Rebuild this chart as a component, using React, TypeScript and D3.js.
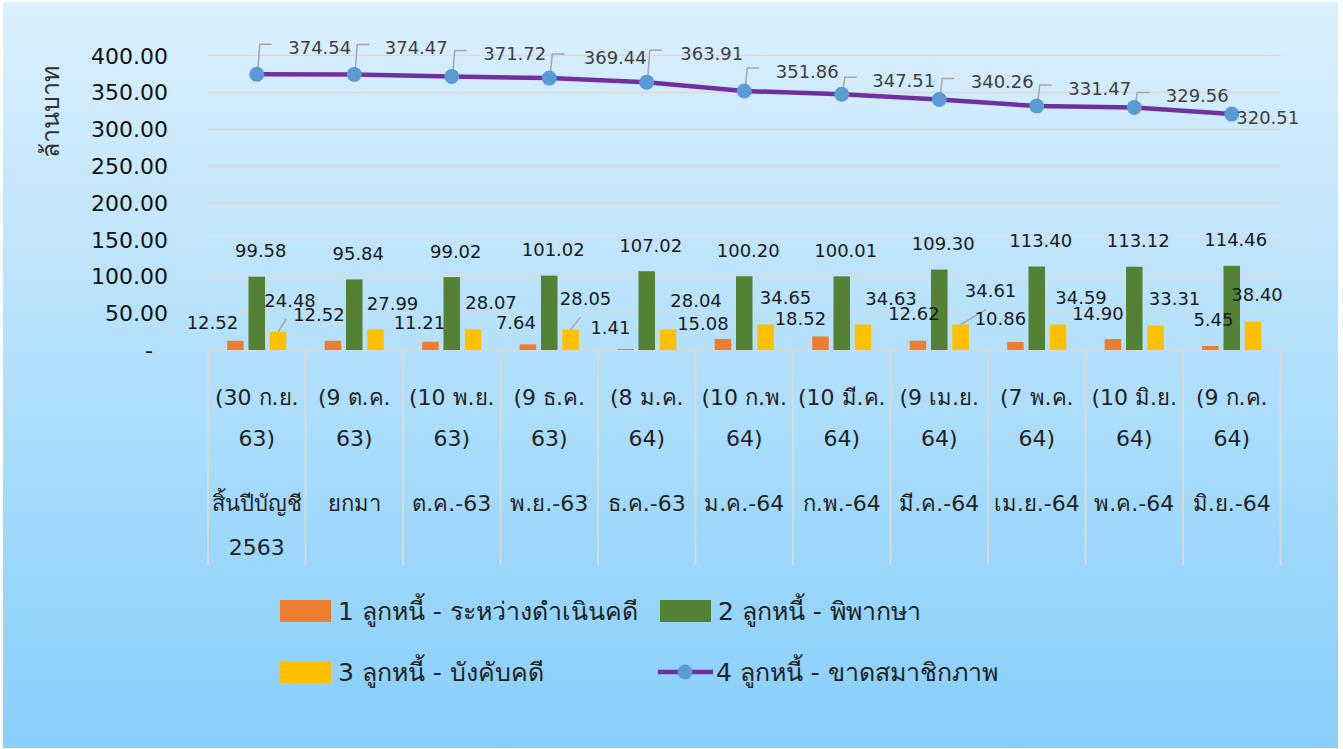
import { useEffect, useRef } from "react";
import * as d3 from "d3";

const W = 1343, H = 749;

// category labels (inner: cut-off dates, outer: reporting month)
const dateLabels = ["(30 ก.ย. 63)", "(9 ต.ค. 63)", "(10 พ.ย. 63)", "(9 ธ.ค. 63)", "(8 ม.ค. 64)", "(10 ก.พ. 64)", "(10 มี.ค. 64)", "(9 เม.ย. 64)", "(7 พ.ค. 64)", "(10 มิ.ย. 64)", "(9 ก.ค. 64)"];
const periodLabels = ["สิ้นปีบัญชี 2563", "ยกมา", "ต.ค.-63", "พ.ย.-63", "ธ.ค.-63", "ม.ค.-64", "ก.พ.-64", "มี.ค.-64", "เม.ย.-64", "พ.ค.-64", "มิ.ย.-64"];

// series values (ล้านบาท)
const inProcess = [12.52, 12.52, 11.21, 7.64, 1.41, 15.08, 18.52, 12.62, 10.86, 14.90, 5.45];
const judged    = [99.58, 95.84, 99.02, 101.02, 107.02, 100.20, 100.01, 109.30, 113.40, 113.12, 114.46];
const enforced  = [24.48, 27.99, 28.07, 28.05, 28.04, 34.65, 34.63, 34.61, 34.59, 33.31, 38.40];
const lapsed    = [374.54, 374.47, 371.72, 369.44, 363.91, 351.86, 347.51, 340.26, 331.47, 329.56, 320.51];

const yTicks = [0, 50, 100, 150, 200, 250, 300, 350, 400];
const seriesNames = ["1 ลูกหนี้ - ระหว่างดำเนินคดี", "2 ลูกหนี้ - พิพากษา", "3 ลูกหนี้ - บังคับคดี", "4 ลูกหนี้ - ขาดสมาชิกภาพ"];
const yTitle = "ล้านบาท";

const C_ORANGE = "#ed7d31", C_GREEN = "#548235", C_YELLOW = "#ffc000";
const C_LINE = "#7030a0", C_MARK = "#5b9bd5", C_GRID = "#d9d9d9", C_LEAD = "#a6a6a6";
const FONT = "Tahoma, 'DejaVu Sans', 'Noto Sans', sans-serif";

// manually placed data labels (offset from the point they belong to) — as in the source workbook
const ORANGE_LBL = [[-23, -18], [-14, -26], [-11, -19], [-12, -22], [-15, -21], [-20, -15], [-20, -18], [-4, -27], [-15, -23], [-15, -26], [3, -26]];
const YELLOW_LBL = [[12, -31], [17, -26], [18, -27], [15, -31], [28, -29], [20, -27], [28, -26], [30, -34], [23, -27], [19, -27], [4, -27]];
const LINE_LBL = [[63, -27], [62, -27], [63, -23], [66, -21], [65, -29], [63, -20], [62, -14], [63, -18], [63, -18], [63, -12], [36, 3]];
const BAR_LEADERS = [[0, 8, -13], [3, 10, -12], [7, 25, -15]];

export default function App() {
  const ref = useRef<SVGSVGElement>(null);

  useEffect(() => {
    if (!ref.current) return;
    const svg = d3.select(ref.current);
    svg.selectAll("*").remove();

    const defs = svg.append("defs");
    const grad = defs.append("linearGradient").attr("id", "bg").attr("x1", 0).attr("y1", 0).attr("x2", 0).attr("y2", 1);
    grad.append("stop").attr("offset", "0%").attr("stop-color", "#dbf0fd");
    grad.append("stop").attr("offset", "100%").attr("stop-color", "#87cffb");
    svg.append("rect").attr("width", W).attr("height", H).attr("fill", "#fff");
    svg.append("rect").attr("x", 3).attr("y", 2).attr("width", 1335).attr("height", 746).attr("fill", "url(#bg)");

    const left = 208, right = 1280.5;
    const y = d3.scaleLinear().domain([0, 400]).range([350, 55.6]);
    const idx = dateLabels.map((_, i) => i);
    const x0 = d3.scaleBand<number>().domain(idx).range([left, right]).padding(0);
    const x1 = d3.scaleBand<number>().domain([0, 1, 2]).range([0, x0.bandwidth()]).paddingInner(0.225).paddingOuter(0.9);
    const cx = (i: number) => x0(i)! + x0.bandwidth() / 2;
    const bx = (i: number, s: number) => x0(i)! + x1(s)! + x1.bandwidth() / 2;

    // gridlines
    svg.append("g").selectAll("line").data(yTicks).join("line")
      .attr("x1", left).attr("x2", right).attr("y1", d => y(d)).attr("y2", d => y(d))
      .attr("stroke", C_GRID).attr("stroke-width", 1.5);

    // category separators
    svg.append("g").selectAll("line").data(d3.range(idx.length + 1)).join("line")
      .attr("x1", d => left + d * x0.step()).attr("x2", d => left + d * x0.step())
      .attr("y1", 350).attr("y2", 565).attr("stroke", C_GRID).attr("stroke-width", 2);

    // y tick labels
    svg.append("g").selectAll("text").data(yTicks).join("text")
      .attr("x", d => d === 0 ? 153 : 168).attr("y", d => y(d)).attr("dy", "0.36em")
      .attr("text-anchor", "end").attr("font-family", FONT).attr("font-size", 22).attr("fill", "#111")
      .text(d => d === 0 ? "-" : d3.format(".2f")(d));

    svg.append("text").attr("transform", "translate(50,112) rotate(-90)").attr("text-anchor", "middle")
      .attr("dy", "0.36em").attr("font-family", FONT).attr("font-size", 25).attr("fill", "#333").text(yTitle);

    // category labels
    const cat = svg.append("g").attr("font-family", FONT).attr("font-size", 22).attr("fill", "#222").attr("text-anchor", "middle");
    idx.forEach(i => {
      const d = dateLabels[i];
      const sp = d.lastIndexOf(" ");
      [d.slice(0, sp), d.slice(sp + 1)].forEach((t, k) =>
        cat.append("text").attr("x", cx(i)).attr("y", 397 + k * 41).attr("dy", "0.36em").text(t));
      periodLabels[i].split(" ").forEach((t, k) =>
        cat.append("text").attr("x", cx(i)).attr("y", 503 + k * 44).attr("dy", "0.36em").text(t));
    });

    // bars
    const series = [inProcess, judged, enforced];
    const colors = [C_ORANGE, C_GREEN, C_YELLOW];
    series.forEach((vals, s) => {
      svg.append("g").selectAll("rect").data(vals).join("rect")
        .attr("x", (_, i) => x0(i)! + x1(s)!).attr("width", x1.bandwidth())
        .attr("y", d => y(d)).attr("height", d => y(0) - y(d)).attr("fill", colors[s]);
    });

    // bar leader lines
    svg.append("g").selectAll("line").data(BAR_LEADERS).join("line")
      .attr("x1", d => bx(d[0], 2)).attr("y1", d => y(enforced[d[0]]))
      .attr("x2", d => bx(d[0], 2) + d[1]).attr("y2", d => y(enforced[d[0]]) + d[2])
      .attr("stroke", C_LEAD).attr("stroke-width", 1.5);

    // bar labels
    const lbl = svg.append("g").attr("font-family", FONT).attr("font-size", 18).attr("fill", "#1a1a1a").attr("text-anchor", "middle");
    inProcess.forEach((v, i) => lbl.append("text").attr("x", bx(i, 0) + ORANGE_LBL[i][0]).attr("y", y(v) + ORANGE_LBL[i][1]).attr("dy", "0.36em").text(v.toFixed(2)));
    judged.forEach((v, i) => lbl.append("text").attr("x", bx(i, 1) + 4).attr("y", y(v) - 26).attr("dy", "0.36em").text(v.toFixed(2)));
    enforced.forEach((v, i) => lbl.append("text").attr("x", bx(i, 2) + YELLOW_LBL[i][0]).attr("y", y(v) + YELLOW_LBL[i][1]).attr("dy", "0.36em").text(v.toFixed(2)));

    // line series
    const line = d3.line<number>().x((_, i) => cx(i)).y(d => y(d));
    svg.append("path").datum(lapsed).attr("d", line).attr("fill", "none").attr("stroke", C_LINE).attr("stroke-width", 4.5).attr("stroke-linejoin", "round");

    // line label leaders
    svg.append("g").selectAll("path").data(lapsed.slice(0, -1)).join("path")
      .attr("d", (d, i) => {
        const px = cx(i), py = y(d), ly = py + LINE_LBL[i][1] - 3;
        return `M${px + 1},${py - 3}L${px + 3},${ly}L${px + 15},${ly}`;
      })
      .attr("fill", "none").attr("stroke", C_LEAD).attr("stroke-width", 1.5);

    svg.append("g").selectAll("circle").data(lapsed).join("circle")
      .attr("cx", (_, i) => cx(i)).attr("cy", d => y(d)).attr("r", 7.5).attr("fill", C_MARK);

    svg.append("g").selectAll("text").data(lapsed).join("text")
      .attr("x", (_, i) => cx(i) + LINE_LBL[i][0]).attr("y", (d, i) => y(d) + LINE_LBL[i][1]).attr("dy", "0.36em")
      .attr("text-anchor", "middle").attr("font-family", FONT).attr("font-size", 18).attr("fill", "#404040")
      .text(d => d.toFixed(2));

    // legend
    const lg = svg.append("g").attr("font-family", FONT).attr("font-size", 25).attr("fill", "#222");
    const items = [
      { x: 280, y: 611, kind: "rect", color: C_ORANGE },
      { x: 660, y: 611, kind: "rect", color: C_GREEN },
      { x: 280, y: 672, kind: "rect", color: C_YELLOW },
      { x: 658, y: 672, kind: "line", color: C_LINE },
    ];
    items.forEach((it, k) => {
      if (it.kind === "rect") {
        lg.append("rect").attr("x", it.x).attr("y", it.y - 11).attr("width", 51).attr("height", 22).attr("fill", it.color);
      } else {
        lg.append("line").attr("x1", it.x).attr("x2", it.x + 55).attr("y1", it.y).attr("y2", it.y).attr("stroke", it.color).attr("stroke-width", 4.5);
        lg.append("circle").attr("cx", it.x + 27).attr("cy", it.y).attr("r", 7.5).attr("fill", C_MARK);
      }
      lg.append("text").attr("x", it.x + 58).attr("y", it.y).attr("dy", "0.36em").text(seriesNames[k]);
    });
  }, []);

  return (
    <div style={{ position: "absolute", left: 0, top: 0 }}>
      <svg ref={ref} width={W} height={H} style={{ display: "block" }} />
    </div>
  );
}
